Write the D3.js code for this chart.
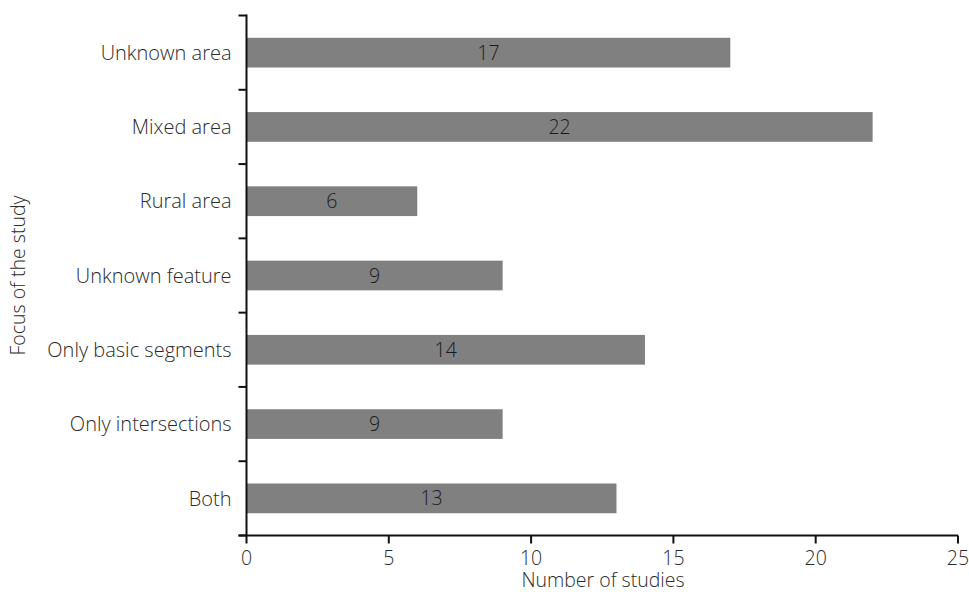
<!DOCTYPE html>
<html>
<head>
<meta charset="utf-8">
<script src="https://cdnjs.cloudflare.com/ajax/libs/d3/7.8.5/d3.min.js"></script>
<style>
  body { margin: 0; background: #fff; }
  svg text { font-family: "Open Sans", sans-serif; font-weight: 350; fill: #2b2b2b; }
</style>
</head>
<body>
<svg id="chart" width="969" height="592"></svg>
<script>
var categories = ["Unknown area", "Mixed area", "Rural area", "Unknown feature",
                  "Only basic segments", "Only intersections", "Both"];
var studies = [17, 22, 6, 9, 14, 9, 13];
var xTicks = [0, 5, 10, 15, 20, 25];

var svg = d3.select("#chart");
var plotL = 246.5, plotR = 958, plotT = 15.5, plotB = 535.5;
var fs = "19.5px";

var x = d3.scaleLinear().domain([0, 25]).range([plotL, plotR]);
var y = d3.scaleBand().domain(categories).range([plotT, plotB]).paddingInner(0.6).paddingOuter(0.3);
var yEdge = d3.scaleLinear().domain([0, categories.length]).range([plotT, plotB]);

var data = categories.map(function(c, i) { return {cat: c, v: studies[i]}; });

svg.selectAll("rect.bar")
  .data(data)
  .enter().append("rect")
  .attr("class", "bar")
  .attr("x", x(0))
  .attr("y", function(d) { return y(d.cat); })
  .attr("width", function(d) { return x(d.v) - x(0); })
  .attr("height", y.bandwidth())
  .attr("fill", "#808080");

svg.selectAll("text.val")
  .data(data)
  .enter().append("text")
  .attr("class", "val")
  .attr("x", function(d) { return (x(0) + x(d.v)) / 2; })
  .attr("y", function(d) { return y(d.cat) + y.bandwidth() / 2; })
  .attr("dy", "0.36em")
  .attr("text-anchor", "middle")
  .style("font-size", fs)
  .style("fill", "#1a1a1a")
  .text(function(d) { return d.v; });

// y axis line + ticks at band edges
var g = svg.append("g").attr("stroke", "#111").attr("stroke-width", 2);
g.append("line").attr("x1", plotL).attr("x2", plotL).attr("y1", plotT - 1).attr("y2", plotB);
g.selectAll("line.yt")
  .data(d3.range(categories.length + 1))
  .enter().append("line")
  .attr("x1", plotL - 8).attr("x2", plotL)
  .attr("y1", function(i) { return yEdge(i); })
  .attr("y2", function(i) { return yEdge(i); });

// x axis
g.append("line").attr("x1", plotL - 8).attr("x2", plotR).attr("y1", plotB).attr("y2", plotB);
g.selectAll("line.xt")
  .data(xTicks)
  .enter().append("line")
  .attr("x1", function(d) { return x(d); }).attr("x2", function(d) { return x(d); })
  .attr("y1", plotB).attr("y2", plotB + 8);

svg.selectAll("text.xl")
  .data(xTicks)
  .enter().append("text")
  .attr("class", "xl")
  .attr("x", function(d) { return x(d); })
  .attr("y", 565)
  .attr("text-anchor", "middle")
  .style("font-size", fs)
  .text(function(d) { return d; });

svg.selectAll("text.yl")
  .data(categories)
  .enter().append("text")
  .attr("class", "yl")
  .attr("x", plotL - 15)
  .attr("y", function(d) { return y(d) + y.bandwidth() / 2; })
  .attr("dy", "0.36em")
  .attr("text-anchor", "end")
  .style("font-size", "20px")
  .text(function(d) { return d; });

svg.append("text")
  .attr("x", 603)
  .attr("y", 587)
  .attr("text-anchor", "middle")
  .style("font-size", fs)
  .text("Number of studies");

svg.append("text")
  .attr("transform", "translate(25," + ((plotT + plotB) / 2) + ") rotate(-90)")
  .attr("text-anchor", "middle")
  .style("font-size", fs)
  .text("Focus of the study");
</script>
</body>
</html>
